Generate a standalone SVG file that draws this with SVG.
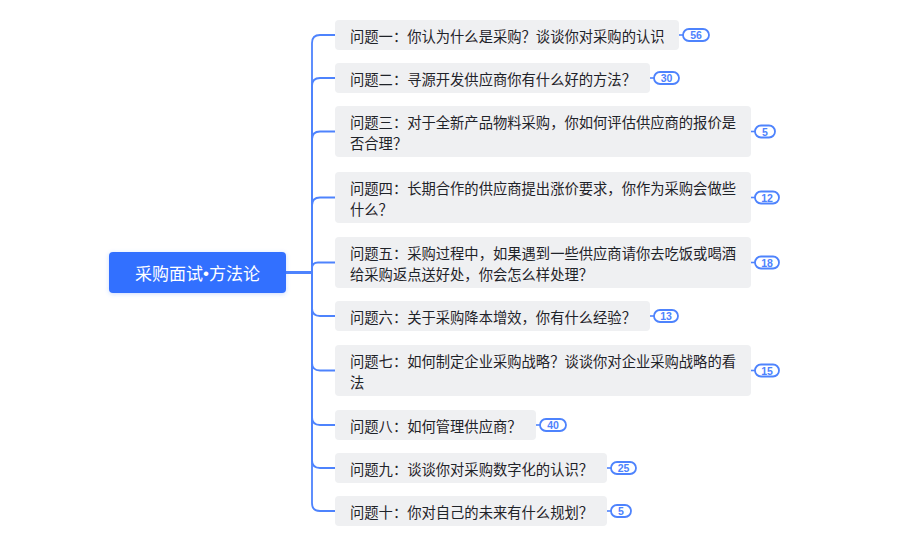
<svg xmlns="http://www.w3.org/2000/svg" width="903" height="543" viewBox="0 0 903 543">
<defs>
<style>
.node rect.box{fill:#eff0f2;}
.node text{font-family:"Noto Sans CJK SC","Noto Sans",sans-serif;font-size:14.3px;fill:#1f2329;dominant-baseline:central;}
.badge rect{fill:#ffffff;stroke:#4e83fd;stroke-width:1.8;}
.badge text{font-family:"Liberation Sans","Noto Sans",sans-serif;font-size:10.5px;font-weight:700;fill:#4e83fd;text-anchor:middle;dominant-baseline:central;}
.conn path{fill:none;stroke:#4e83fd;stroke-width:1.8;}
.blink{stroke:#4e83fd;stroke-width:1.6;}
.root text{font-family:"Noto Sans CJK SC","Noto Sans",sans-serif;font-size:17px;fill:#ffffff;text-anchor:middle;dominant-baseline:central;}
.dot{font-family:"Liberation Sans",sans-serif;}
</style>
<filter id="sh" x="-10%" y="-30%" width="120%" height="160%">
<feDropShadow dx="0" dy="1" stdDeviation="2" flood-color="#3370ff" flood-opacity="0.25"/>
</filter>
</defs>
<rect width="903" height="543" fill="#ffffff"/>
<g id="connectors" class="conn">
<path d="M286 272.5 H312 V43 Q312 35 320 35 H335"/>
<path d="M286 272.5 H312 V86 Q312 78 320 78 H335"/>
<path d="M286 272.5 H312 V139.5 Q312 131.5 320 131.5 H335"/>
<path d="M286 272.5 H312 V205.5 Q312 197.5 320 197.5 H335"/>
<path d="M286 272.5 H312 V268.5 Q312 262.5 318 262.5 H335"/>
<path d="M286 272.5 H312 V308 Q312 316 320 316 H335"/>
<path d="M286 272.5 H312 V362.5 Q312 370.5 320 370.5 H335"/>
<path d="M286 272.5 H312 V417 Q312 425 320 425 H335"/>
<path d="M286 272.5 H312 V460 Q312 468 320 468 H335"/>
<path d="M286 272.5 H312 V503 Q312 511 320 511 H335"/>
</g>
<g id="root" class="root">
<rect x="109" y="252" width="177" height="41" rx="4" fill="#3370ff" filter="url(#sh)"/>
<text x="197.5" y="272.5">采购面试<tspan class="dot">•</tspan>方法论</text>
</g>
<g id="q1" class="node">
<rect class="box" x="335" y="20" width="344" height="30" rx="4"/>
<text x="350" y="35">问题一：你认为什么是采购？谈谈你对采购的认识</text>
<line class="blink" x1="679" y1="35" x2="683" y2="35"/>
<g class="badge"><rect x="683" y="29" width="26" height="12" rx="6"/><text x="696" y="35">56</text></g>
</g>
<g id="q2" class="node">
<rect class="box" x="335" y="63" width="315" height="30" rx="4"/>
<text x="350" y="78">问题二：寻源开发供应商你有什么好的方法？</text>
<line class="blink" x1="650" y1="78" x2="654" y2="78"/>
<g class="badge"><rect x="654" y="72" width="25" height="12" rx="6"/><text x="666.5" y="78">30</text></g>
</g>
<g id="q3" class="node">
<rect class="box" x="335" y="106" width="416" height="51" rx="4"/>
<text x="350" y="121">问题三：对于全新产品物料采购，你如何评估供应商的报价是</text>
<text x="350" y="142">否合理？</text>
<line class="blink" x1="751" y1="131.5" x2="755" y2="131.5"/>
<g class="badge"><rect x="755" y="125.5" width="20" height="12" rx="6"/><text x="765" y="131.5">5</text></g>
</g>
<g id="q4" class="node">
<rect class="box" x="335" y="172" width="416" height="51" rx="4"/>
<text x="350" y="187">问题四：长期合作的供应商提出涨价要求，你作为采购会做些</text>
<text x="350" y="208">什么？</text>
<line class="blink" x1="751" y1="197.5" x2="755" y2="197.5"/>
<g class="badge"><rect x="755" y="191.5" width="24" height="12" rx="6"/><text x="767" y="197.5">12</text></g>
</g>
<g id="q5" class="node">
<rect class="box" x="335" y="237" width="416" height="51" rx="4"/>
<text x="350" y="252">问题五：采购过程中，如果遇到一些供应商请你去吃饭或喝酒</text>
<text x="350" y="273">给采购返点送好处，你会怎么样处理？</text>
<line class="blink" x1="751" y1="262.5" x2="755" y2="262.5"/>
<g class="badge"><rect x="755" y="256.5" width="24" height="12" rx="6"/><text x="767" y="262.5">18</text></g>
</g>
<g id="q6" class="node">
<rect class="box" x="335" y="301" width="315" height="30" rx="4"/>
<text x="350" y="316">问题六：关于采购降本增效，你有什么经验？</text>
<line class="blink" x1="650" y1="316" x2="654" y2="316"/>
<g class="badge"><rect x="654" y="310" width="24" height="12" rx="6"/><text x="666" y="316">13</text></g>
</g>
<g id="q7" class="node">
<rect class="box" x="335" y="345" width="416" height="51" rx="4"/>
<text x="350" y="360">问题七：如何制定企业采购战略？谈谈你对企业采购战略的看</text>
<text x="350" y="381">法</text>
<line class="blink" x1="751" y1="370.5" x2="755" y2="370.5"/>
<g class="badge"><rect x="755" y="364.5" width="24" height="12" rx="6"/><text x="767" y="370.5">15</text></g>
</g>
<g id="q8" class="node">
<rect class="box" x="335" y="410" width="201" height="30" rx="4"/>
<text x="350" y="425">问题八：如何管理供应商？</text>
<line class="blink" x1="536" y1="425" x2="540" y2="425"/>
<g class="badge"><rect x="540" y="419" width="26" height="12" rx="6"/><text x="553" y="425">40</text></g>
</g>
<g id="q9" class="node">
<rect class="box" x="335" y="453" width="272" height="30" rx="4"/>
<text x="350" y="468">问题九：谈谈你对采购数字化的认识？</text>
<line class="blink" x1="607" y1="468" x2="611" y2="468"/>
<g class="badge"><rect x="611" y="462" width="25" height="12" rx="6"/><text x="623.5" y="468">25</text></g>
</g>
<g id="q10" class="node">
<rect class="box" x="335" y="496" width="272" height="30" rx="4"/>
<text x="350" y="511">问题十：你对自己的未来有什么规划？</text>
<line class="blink" x1="607" y1="511" x2="611" y2="511"/>
<g class="badge"><rect x="611" y="505" width="20" height="12" rx="6"/><text x="621" y="511">5</text></g>
</g>
</svg>
